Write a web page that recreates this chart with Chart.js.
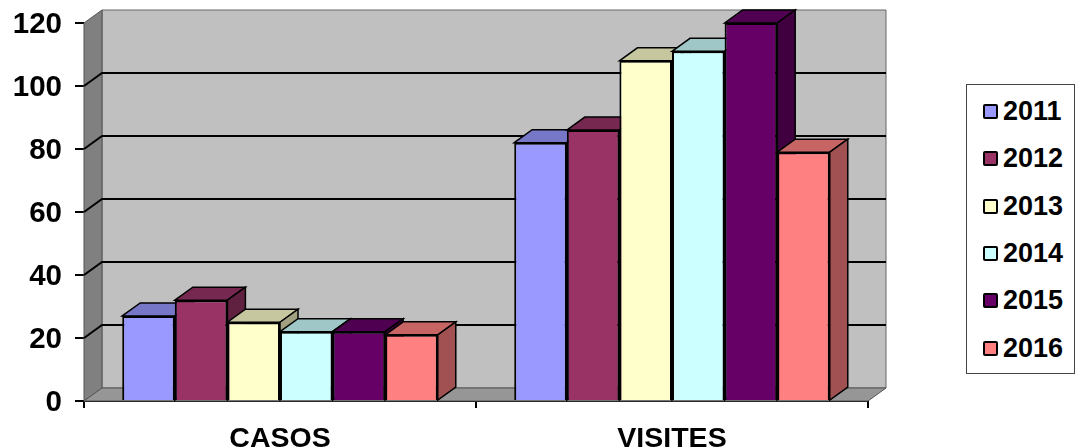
<!DOCTYPE html>
<html>
<head>
<meta charset="utf-8">
<script src="https://cdn.jsdelivr.net/npm/chart.js@4"></script>
<style>
  html, body { margin: 0; padding: 0; background: #fff; overflow: hidden; }
  #wrap { position: relative; width: 1076px; height: 447px; }
  #legend {
    position: absolute; left: 966px; top: 84px; width: 109px; height: 290px;
    box-sizing: border-box; border: 1px solid #444; background: #fff;
    font: bold 27px "Liberation Sans", Arial, sans-serif; color: #000;
    display: flex; flex-direction: column; justify-content: space-around;
    padding: 3px 0 1px 16px;
  }
  #legend div { display: flex; align-items: center; height: 30px; }
  #legend i { display: block; width: 11px; height: 11px; border: 2px solid #000; border-radius: 2px; margin-right: 5px; }
</style>
</head>
<body>
<div id="wrap">
  <canvas id="chart" width="1076" height="447"></canvas>
  <div id="legend"></div>
</div>
<script>
const categories = ['CASOS', 'VISITES'];
const years = ['2011', '2012', '2013', '2014', '2015', '2016'];
const values2011 = [27, 82];
const values2012 = [32, 86];
const values2013 = [25, 108];
const values2014 = [22, 111];
const values2015 = [22, 120];
const values2016 = [21, 79];
const allValues = [values2011, values2012, values2013, values2014, values2015, values2016];
const colors = ['#9999ff', '#993366', '#ffffcc', '#ccffff', '#660066', '#ff8080'];

// depth of the fake 3d box
const DX = 18;
const DY = 13;

function shade(hex, f) {
  const n = parseInt(hex.slice(1), 16);
  const r = Math.round((n >> 16) * f);
  const g = Math.round(((n >> 8) & 255) * f);
  const b = Math.round((n & 255) * f);
  return 'rgb(' + r + ',' + g + ',' + b + ')';
}

function poly(ctx, pts, fill, stroke, lw) {
  ctx.beginPath();
  pts.forEach((p, i) => i ? ctx.lineTo(p[0], p[1]) : ctx.moveTo(p[0], p[1]));
  ctx.closePath();
  if (fill) { ctx.fillStyle = fill; ctx.fill(); }
  if (stroke) { ctx.strokeStyle = stroke; ctx.lineWidth = lw; ctx.stroke(); }
}

const box3d = {
  id: 'box3d',
  beforeDatasetsDraw(chart) {
    const ctx = chart.ctx;
    const a = chart.chartArea;
    const y = chart.scales.y;
    ctx.save();
    // back wall, left wall, floor
    poly(ctx, [[a.left + DX, a.top - DY], [a.right + DX, a.top - DY], [a.right + DX, a.bottom - DY], [a.left + DX, a.bottom - DY]], '#c0c0c0', '#666', 1);
    poly(ctx, [[a.left, a.top], [a.left + DX, a.top - DY], [a.left + DX, a.bottom - DY], [a.left, a.bottom]], '#808080', '#555', 1);
    poly(ctx, [[a.left, a.bottom], [a.left + DX, a.bottom - DY], [a.right + DX, a.bottom - DY], [a.right, a.bottom]], '#969696', '#555', 1);
    // grid lines along left wall and back wall
    ctx.strokeStyle = '#000';
    ctx.lineWidth = 2;
    y.ticks.forEach(t => {
      if (t.value === 0 || t.value === y.max) return;
      const py = y.getPixelForValue(t.value);
      ctx.beginPath();
      ctx.moveTo(a.left, py);
      ctx.lineTo(a.left + DX, py - DY);
      ctx.lineTo(a.right + DX, py - DY);
      ctx.stroke();
    });
    ctx.restore();
  },
  // bars are drawn below, left to right, so each front hides the side before it
  beforeDatasetDraw() {
    return false;
  },
  afterDatasetsDraw(chart) {
    const ctx = chart.ctx;
    ctx.save();
    categories.forEach((c, ci) => {
      years.forEach((yr, di) => {
        const el = chart.getDatasetMeta(di).data[ci];
        const l = el.x - el.width / 2;
        const r = el.x + el.width / 2;
        const t = el.y;
        const b = el.base;
        poly(ctx, [[l, t], [l + DX, t - DY], [r + DX, t - DY], [r, t]], shade(colors[di], 0.78), '#000', 1.5);
        poly(ctx, [[r, t], [r + DX, t - DY], [r + DX, b - DY], [r, b]], shade(colors[di], 0.63), '#000', 1.5);
        el.draw(ctx);
      });
    });
    ctx.restore();
  }
};

new Chart(document.getElementById('chart'), {
  type: 'bar',
  plugins: [box3d],
  data: {
    labels: categories,
    datasets: years.map((yr, i) => ({
      label: yr,
      data: allValues[i],
      backgroundColor: colors[i],
      borderColor: '#000',
      borderWidth: 2,
      categoryPercentage: 0.805,
      barPercentage: 1
    }))
  },
  options: {
    responsive: false,
    animation: false,
    devicePixelRatio: 1,
    layout: { padding: { top: 23, right: 208, left: 0, bottom: 0 } },
    plugins: { legend: { display: false }, tooltip: { enabled: false } },
    scales: {
      x: {
        afterFit(s) { s.height = 46; s.paddingLeft = 0; s.paddingRight = 0; },
        border: { display: true, color: '#000', width: 2 },
        grid: { drawOnChartArea: false, drawTicks: true, tickLength: 7, color: '#000', lineWidth: 2 },
        ticks: { color: '#000', font: { family: '"Liberation Sans", Arial, sans-serif', size: 28.5, weight: 'bold' }, padding: 14, maxRotation: 0 }
      },
      y: {
        min: 0,
        max: 120,
        afterFit(s) { s.width = 84; s.paddingTop = 0; s.paddingBottom = 0; },
        border: { display: true, color: '#555', width: 1 },
        grid: { drawOnChartArea: false, drawTicks: true, tickLength: 9, color: '#000', lineWidth: 2 },
        ticks: { stepSize: 20, color: '#000', font: { family: '"Liberation Sans", Arial, sans-serif', size: 29.5, weight: 'bold' }, padding: 13, labelOffset: 2 }
      }
    }
  }
});

// legend box at the right
const legend = document.getElementById('legend');
years.forEach((yr, i) => {
  const row = document.createElement('div');
  const sw = document.createElement('i');
  sw.style.background = colors[i];
  row.appendChild(sw);
  row.appendChild(document.createTextNode(yr));
  legend.appendChild(row);
});
</script>
</body>
</html>
